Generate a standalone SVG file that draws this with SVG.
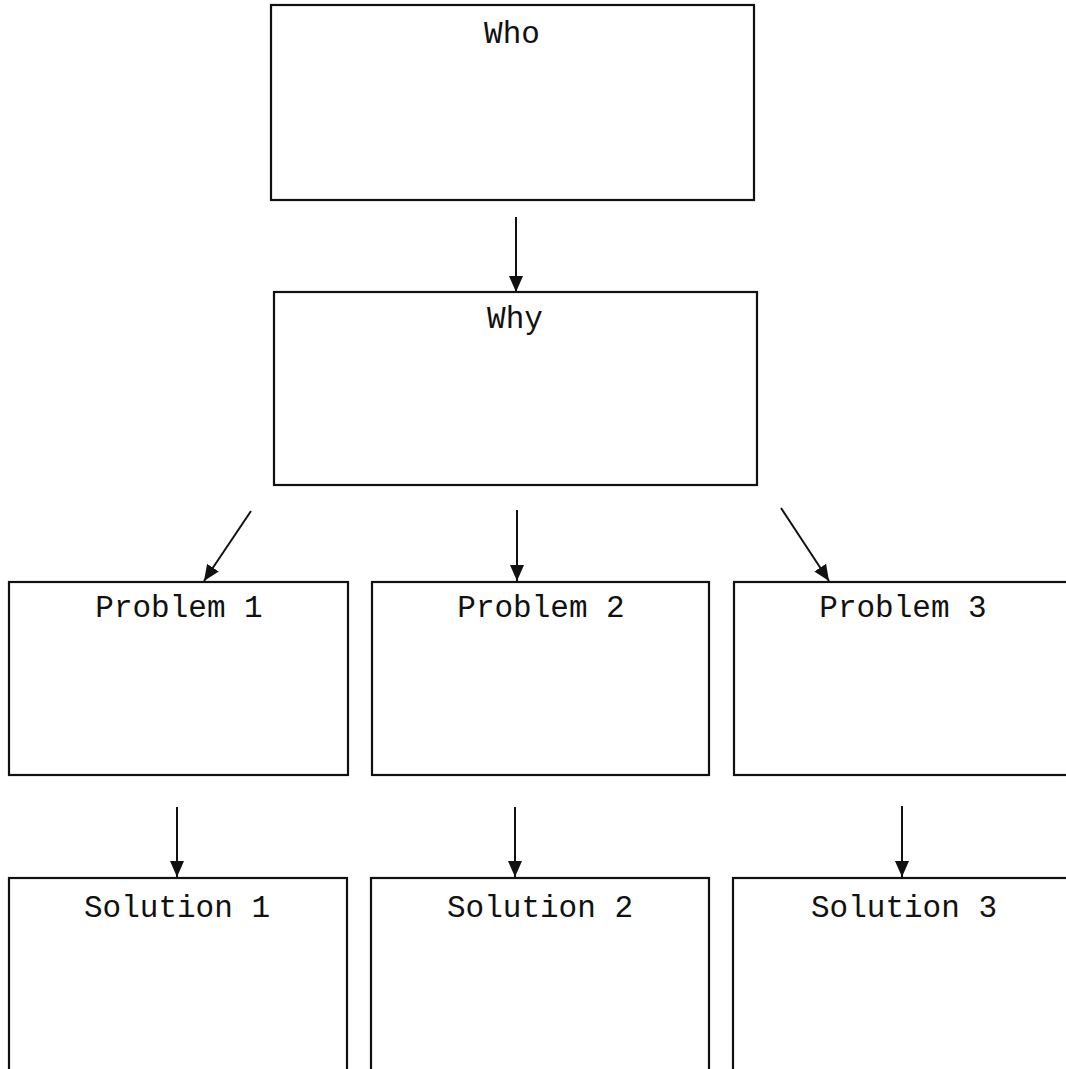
<svg xmlns="http://www.w3.org/2000/svg" width="1066" height="1069" viewBox="0 0 1066 1069">
<style>
.box{fill:#fff;stroke:#111;stroke-width:2.2}
.lbl{font-family:"Liberation Mono","DejaVu Sans Mono",monospace;font-size:31px;fill:#111;text-anchor:middle}
.conn{stroke:#111;stroke-width:2;fill:none;marker-end:url(#ah)}
</style>
<defs>
<marker id="ah" markerUnits="userSpaceOnUse" viewBox="0 0 16 14" markerWidth="16" markerHeight="14" refX="16" refY="7" orient="auto">
<path d="M0,0 L16,7 L0,14 Z" fill="#111"/>
</marker>
</defs>
<rect width="1066" height="1069" fill="#fff"/>
<g id="who"><rect class="box" x="271" y="5" width="483" height="195"/><text class="lbl" x="512" y="43">Who</text></g>
<g id="why"><rect class="box" x="274" y="292" width="483" height="193"/><text class="lbl" x="515" y="328">Why</text></g>
<g id="problem1"><rect class="box" x="9" y="582" width="339" height="193"/><text class="lbl" x="179" y="617">Problem 1</text></g>
<g id="problem2"><rect class="box" x="372" y="582" width="337" height="193"/><text class="lbl" x="541" y="617">Problem 2</text></g>
<g id="problem3"><rect class="box" x="734" y="582" width="345" height="193"/><text class="lbl" x="903" y="617">Problem 3</text></g>
<g id="solution1"><rect class="box" x="9" y="878" width="338" height="210"/><text class="lbl" x="177" y="917">Solution 1</text></g>
<g id="solution2"><rect class="box" x="371" y="878" width="338" height="210"/><text class="lbl" x="540" y="917">Solution 2</text></g>
<g id="solution3"><rect class="box" x="733" y="878" width="345" height="210"/><text class="lbl" x="904" y="917">Solution 3</text></g>
<g id="connectors">
<line class="conn" x1="516" y1="217" x2="516" y2="292"/>
<line class="conn" x1="251" y1="511" x2="204" y2="581"/>
<line class="conn" x1="517" y1="510" x2="517" y2="581"/>
<line class="conn" x1="781" y1="508" x2="829" y2="581"/>
<line class="conn" x1="177" y1="807" x2="177" y2="877"/>
<line class="conn" x1="515" y1="807" x2="515" y2="877"/>
<line class="conn" x1="902" y1="806" x2="902" y2="877"/>
</g>
</svg>
